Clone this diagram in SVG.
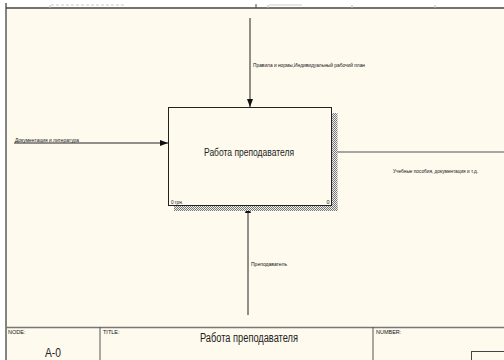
<svg xmlns="http://www.w3.org/2000/svg" width="504" height="360" viewBox="0 0 504 360">
<style>
.lbl{font-family:"Liberation Sans",Arial,sans-serif;font-size:5.5px;fill:#111}
.big{font-family:"Liberation Sans",Arial,sans-serif;fill:#222}
.frame{stroke:#444;stroke-width:1.3;fill:none}
.arrow{stroke:#222;stroke-width:1;fill:none}
</style>
<defs>
<pattern id="hatch" width="2" height="2" patternUnits="userSpaceOnUse">
<rect width="2" height="2" fill="#eee"/>
<rect width="1" height="1" fill="#777"/>
<rect x="1" y="1" width="1" height="1" fill="#777"/>
</pattern>
<marker id="ah" viewBox="0 0 8 6" refX="8" refY="3" markerWidth="8" markerHeight="6" markerUnits="userSpaceOnUse" orient="auto">
<path d="M0,0 L8,3 L0,6 z" fill="#111"/>
</marker>
</defs>
<rect width="504" height="360" fill="#fff"/>
<rect x="6" y="8" width="498" height="352" fill="#fffaee"/>
<g id="frame">
<line class="frame" x1="6" y1="8" x2="504" y2="8"/>
<line class="frame" x1="6" y1="3" x2="6" y2="360"/>
<line x1="256" y1="4" x2="256" y2="8" stroke="#444" stroke-width="1"/>
<line x1="50" y1="5" x2="50" y2="8" stroke="#bbb" stroke-width="1"/>
<line x1="51" y1="5" x2="125" y2="5" stroke="#ccc" stroke-width="1" stroke-dasharray="3,2"/>
<line x1="268" y1="5" x2="268" y2="8" stroke="#bbb" stroke-width="1"/>
<line x1="269" y1="5" x2="302" y2="5" stroke="#ccc" stroke-width="1"/>
<line x1="352" y1="5" x2="352" y2="8" stroke="#bbb" stroke-width="1"/>
<line x1="435" y1="5" x2="435" y2="8" stroke="#bbb" stroke-width="1"/>
<line x1="6" y1="327.5" x2="504" y2="327.5" stroke="#777" stroke-width="1.3"/>
<line x1="100" y1="327" x2="100" y2="360" stroke="#555" stroke-width="1"/>
<line x1="373" y1="327" x2="373" y2="360" stroke="#555" stroke-width="1"/>
<rect x="471.5" y="351.5" width="40" height="20" fill="none" stroke="#444" stroke-width="1"/>
<text x="8" y="334" class="lbl" font-size="4.5">NODE:</text>
<text x="103" y="334" class="lbl" font-size="4.5">TITLE:</text>
<text x="376" y="334" class="lbl" font-size="4.5">NUMBER:</text>
<text x="53" y="357" class="big" font-size="12" text-anchor="middle" textLength="16" lengthAdjust="spacingAndGlyphs">A-0</text>
<text x="200" y="342" class="big" font-size="12" textLength="98" lengthAdjust="spacingAndGlyphs">Работа преподавателя</text>
</g>
<g id="connectors">
<line class="arrow" x1="250" y1="18" x2="250" y2="107" marker-end="url(#ah)"/>
<line class="arrow" x1="14" y1="143" x2="168" y2="143" marker-end="url(#ah)"/>
<line x1="331" y1="152" x2="504" y2="152" stroke="#888" stroke-width="1.5"/>
<line class="arrow" x1="248" y1="315" x2="248" y2="205" marker-end="url(#ah)"/>
<text x="253" y="67" class="lbl" textLength="112" lengthAdjust="spacingAndGlyphs">Правила и нормы,Индивидуальный рабочий план</text>
<text x="15" y="142" class="lbl" textLength="64" lengthAdjust="spacingAndGlyphs">Документация и литература</text>
<text x="393" y="173" class="lbl" textLength="85" lengthAdjust="spacingAndGlyphs">Учебные пособия, документация и т.д.</text>
<text x="251" y="266" class="lbl" textLength="36" lengthAdjust="spacingAndGlyphs">Преподаватель</text>
</g>
<g id="node-A0">
<rect x="331.5" y="113" width="6" height="98" fill="url(#hatch)"/>
<rect x="174" y="205.5" width="163.5" height="5.5" fill="url(#hatch)"/>
<rect x="168.5" y="107.5" width="163" height="98" fill="#fffaee" stroke="#222" stroke-width="1"/>
<text x="204" y="156" class="big" font-size="10.5" textLength="90" lengthAdjust="spacingAndGlyphs">Работа преподавателя</text>
<text x="171" y="204" class="lbl" font-size="4.5" textLength="12" lengthAdjust="spacingAndGlyphs">0 грн.</text>
<text x="326.5" y="204" class="lbl" font-size="4.5">0</text>
</g>
</svg>
